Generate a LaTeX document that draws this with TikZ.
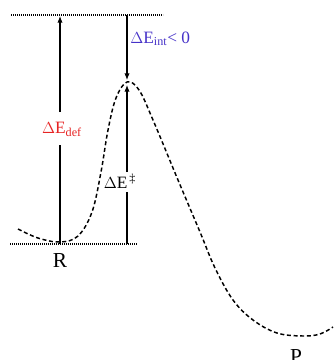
\documentclass[tikz,border=0pt]{standalone}
\usepackage{fontspec}
\setmainfont{Liberation Serif}
\usetikzlibrary{arrows.meta}
\definecolor{defred}{RGB}{230,35,35}
\definecolor{intblue}{RGB}{70,50,200}
\begin{document}
\begin{tikzpicture}[x=0.75pt,y=-0.75pt,
  level/.style={line width=0.9pt,dash pattern=on 0.7pt off 0.8pt},
  arr/.style={line width=0.8pt,-{Latex[length=5pt,width=4pt]}},
  seg/.style={line width=0.8pt},
  curve/.style={line width=1.1pt,dash pattern=on 3pt off 2pt},
  lbl/.style={inner sep=0pt,font=\fontsize{13}{15}\selectfont},
  state/.style={inner sep=0pt,font=\fontsize{16}{18}\selectfont}]
\useasboundingbox (0,0) rectangle (333,360);
% levels
\coordinate (tl) at (11,15);
\coordinate (tr) at (163,15);
\coordinate (bl) at (10,244);
\coordinate (br) at (137,244);
\draw[level] (tl) -- (tr);
\draw[level] (bl) -- (br);
% Delta E def
\coordinate (d0) at (60,244);
\coordinate (d1) at (60,145);
\coordinate (d2) at (60,112);
\coordinate (d3) at (60,16);
\node[lbl,text=defred] (def) at (62,129) {$\Delta$E\textsubscript{def}};
\draw[seg] (d0) -- (d1);
\draw[arr] (d2) -- (d3);
% Delta E double dagger
\coordinate (a0) at (127,244);
\coordinate (a1) at (127,192);
\coordinate (a2) at (127,172);
\coordinate (a3) at (127,85);
\node[lbl] (dd) at (120,181) {$\Delta$E\textsuperscript{\,‡}};
\draw[seg] (a0) -- (a1);
\draw[arr] (a2) -- (a3);
% Delta E int
\coordinate (i0) at (127,15);
\coordinate (i1) at (127,80);
\draw[arr] (i0) -- (i1);
\node[lbl,text=intblue,anchor=west] (int) at (130,39) {$\Delta$E\textsubscript{int}< 0};
% curve
\draw[curve] plot[smooth,tension=0.6] coordinates {
 (18,229) (38,238) (60,242) (78,236) (92,212) (101,172) (108,130) (116,98) (127,82)
 (139,90) (153,120) (178,180) (200,232) (215,268) (233,300) (253,320) (277,333)
 (303,336) (320,334) (333,327)};
% labels
\node[state] (R) at (60,261) {R};
\node[state] (P) at (296,357) {P};
\end{tikzpicture}
\end{document}
